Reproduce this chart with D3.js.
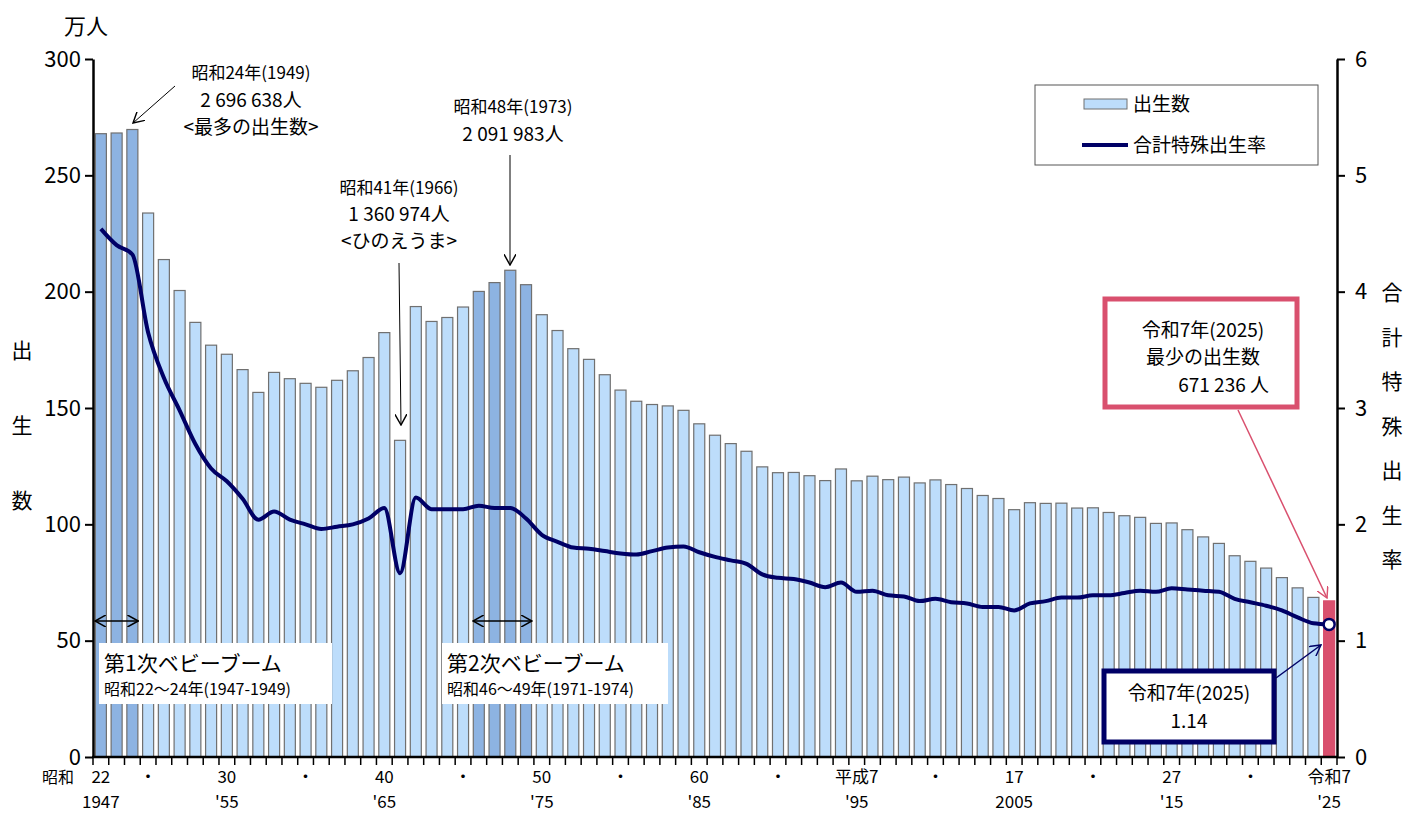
<!DOCTYPE html>
<html><head><meta charset="utf-8">
<script src="https://cdn.jsdelivr.net/npm/d3@7"></script>
<style>
body{margin:0;background:#fff;}
svg text{font-family:"Noto Sans CJK JP",sans-serif;fill:#000;}
</style></head>
<body><svg id="c" width="1418" height="813"></svg>
<script>
const years = d3.range(1947, 2026);
const births = [267.9,268.2,269.7,233.8,213.8,200.5,186.8,177.0,173.1,166.5,
156.7,165.3,162.6,160.6,158.9,161.9,166.0,171.7,182.4,136.1,
193.6,187.2,188.9,193.4,200.1,203.9,209.2,203.0,190.1,183.3,
175.5,170.9,164.3,157.7,152.9,151.5,150.9,149.0,143.2,138.3,
134.7,131.4,124.7,122.2,122.3,120.9,118.8,123.8,118.7,120.7,
119.2,120.3,117.8,119.1,117.1,115.4,112.4,111.1,106.3,109.3,
109.0,109.1,107.0,107.1,105.1,103.7,103.0,100.4,100.6,97.7,
94.6,91.8,86.5,84.1,81.2,77.1,72.7,68.6,67.1];
const tfr = [4.54,4.40,4.32,3.65,3.26,2.98,2.69,2.48,2.37,2.22,
2.04,2.11,2.04,2.00,1.96,1.98,2.00,2.05,2.14,1.58,
2.23,2.13,2.13,2.13,2.16,2.14,2.14,2.05,1.91,1.85,
1.80,1.79,1.77,1.75,1.74,1.77,1.80,1.81,1.76,1.72,
1.69,1.66,1.57,1.54,1.53,1.50,1.46,1.50,1.42,1.43,
1.39,1.38,1.34,1.36,1.33,1.32,1.29,1.29,1.26,1.32,
1.34,1.37,1.37,1.39,1.39,1.41,1.43,1.42,1.45,1.44,
1.43,1.42,1.36,1.33,1.30,1.26,1.20,1.15,1.14];
const boomYears = [1947,1948,1949,1971,1972,1973,1974];
const leftTicks = [0,50,100,150,200,250,300];
const rightTicks = [0,1,2,3,4,5,6];
const xLabels1 = [[1947,"22"],[1950,"・"],[1955,"30"],[1960,"・"],[1965,"40"],[1970,"・"],[1975,"50"],[1980,"・"],[1985,"60"],[1990,"・"],[1995,"平成7"],[2000,"・"],[2005,"17"],[2010,"・"],[2015,"27"],[2020,"・"],[2025,"令和7"]];
const xLabels2 = [[1947,"1947"],[1955,"'55"],[1965,"'65"],[1975,"'75"],[1985,"'85"],[1995,"'95"],[2005,"2005"],[2015,"'15"],[2025,"'25"]];

const L=93, R=1337, T=59, B=757;
const svg = d3.select("#c");
const x = d3.scaleBand().domain(years).range([L,R]).paddingInner(0.3).paddingOuter(0.15);
const xb = d3.scaleBand().domain(years).range([L,R]);
const y = d3.scaleLinear().domain([0,300]).range([B,T]);
const y2 = d3.scaleLinear().domain([0,6]).range([B,T]);

// bars
svg.append("g").selectAll("rect").data(years).join("rect")
  .attr("x",d=>x(d)).attr("width",x.bandwidth())
  .attr("y",(d,i)=>y(births[i])).attr("height",(d,i)=>B-y(births[i]))
  .attr("fill",d=>d===2025?"#D9506E":(boomYears.includes(d)?"#8DB3E2":"#BDDDFB"))
  .attr("stroke",d=>d===2025?"#D9506E":"#707070").attr("stroke-width",1.2);

// line
const line = d3.line().x((d,i)=>xb(years[i])+xb.bandwidth()/2).y(d=>y2(d)).curve(d3.curveMonotoneX);
svg.append("path").datum(tfr).attr("d",line).attr("fill","none").attr("stroke","#000066").attr("stroke-width",4).attr("stroke-linejoin","round");
svg.append("circle").attr("cx",xb(2025)+xb.bandwidth()/2).attr("cy",y2(tfr[tfr.length-1])).attr("r",5.5)
  .attr("fill","#fff").attr("stroke","#000066").attr("stroke-width",2.5);

// axes
const gl = svg.append("g").attr("transform",`translate(${L},0)`).call(d3.axisLeft(y).tickValues(leftTicks).tickFormat(d3.format("d")).tickSize(8).tickSizeOuter(0));
gl.selectAll("text").attr("font-size",22).attr("x",-12);
const gr = svg.append("g").attr("transform",`translate(${R},0)`).call(d3.axisRight(y2).tickValues(rightTicks).tickFormat(d3.format("d")).tickSize(8).tickSizeOuter(0));
gr.selectAll("text").attr("font-size",22).attr("x",18);
[gl,gr].forEach(g=>{g.select(".domain").attr("stroke","#000").attr("stroke-width",2.5);g.selectAll(".tick line").attr("stroke","#000").attr("stroke-width",2);g.selectAll("text").attr("font-family","Noto Sans CJK JP, sans-serif");});
// x axis: ticks at band boundaries
const gx = svg.append("g");
gx.append("line").attr("x1",L-1).attr("x2",R+1).attr("y1",B).attr("y2",B).attr("stroke","#000").attr("stroke-width",2.5);
gx.selectAll("line.t").data(years.concat([2026])).join("line").attr("class","t")
  .attr("x1",d=>d===2026?R:xb(d)).attr("x2",d=>d===2026?R:xb(d)).attr("y1",B).attr("y2",B+8).attr("stroke","#000").attr("stroke-width",1.5);
const cx = d=>xb(d)+xb.bandwidth()/2;
gx.selectAll("text.l1").data(xLabels1).join("text").attr("class","l1")
  .attr("x",d=>cx(d[0])).attr("y",783).attr("text-anchor","middle").attr("font-size",17).text(d=>d[1]);
gx.append("text").attr("x",58).attr("y",783).attr("text-anchor","middle").attr("font-size",16).text("昭和");
gx.selectAll("text.l2").data(xLabels2).join("text").attr("class","l2")
  .attr("x",d=>cx(d[0])).attr("y",808).attr("text-anchor","middle").attr("font-size",17).text(d=>d[1]);

// axis titles
svg.append("text").attr("x",86).attr("y",34).attr("text-anchor","middle").attr("font-size",22).text("万人");
["出","生","数"].forEach((c,i)=>svg.append("text").attr("x",22).attr("y",358+i*75).attr("text-anchor","middle").attr("font-size",21).text(c));
["合","計","特","殊","出","生","率"].forEach((c,i)=>svg.append("text").attr("x",1392).attr("y",300+i*44.5).attr("text-anchor","middle").attr("font-size",21).text(c));

// legend
const lg = svg.append("g");
lg.append("rect").attr("x",1035).attr("y",85).attr("width",283).attr("height",80).attr("fill","#fff").attr("stroke","#555").attr("stroke-width",1);
lg.append("rect").attr("x",1084).attr("y",99).attr("width",43).attr("height",10).attr("fill","#BDDDFB").attr("stroke","#707070");
lg.append("text").attr("x",1133).attr("y",111).attr("font-size",19).text("出生数");
lg.append("line").attr("x1",1082).attr("x2",1128).attr("y1",145).attr("y2",145).attr("stroke","#000066").attr("stroke-width",4);
lg.append("text").attr("x",1133).attr("y",152).attr("font-size",19).text("合計特殊出生率");

// arrow marker defs
const defs = svg.append("defs");
function marker(id,color){
  defs.append("marker").attr("id",id).attr("viewBox","0 0 10 10").attr("refX",9).attr("refY",5)
   .attr("markerWidth",12).attr("markerHeight",12).attr("markerUnits","userSpaceOnUse").attr("orient","auto-start-reverse")
   .append("path").attr("d","M0,0 L9,5 L0,10").attr("fill","none").attr("stroke",color).attr("stroke-width",1.2);
}
marker("ak","#000");marker("ap","#D9506E");marker("an","#000066");

function txt(x0,y0,s,size,anchor){
  return svg.append("text").attr("x",x0).attr("y",y0).attr("text-anchor",anchor||"middle").attr("font-size",size).text(s);
}
// 1949 annotation
txt(251,79,"昭和24年(1949)",17);
txt(251,107,"2 696 638人",19);
txt(251,134,"<最多の出生数>",19);
svg.append("line").attr("x1",175).attr("y1",86).attr("x2",133).attr("y2",123).attr("stroke","#000").attr("stroke-width",1).attr("marker-end","url(#ak)");
// 1966
txt(399,194,"昭和41年(1966)",17);
txt(399,221,"1 360 974人",19);
txt(399,248,"<ひのえうま>",19);
svg.append("line").attr("x1",399).attr("y1",263).attr("x2",401).attr("y2",425).attr("stroke","#000").attr("stroke-width",1).attr("marker-end","url(#ak)");
// 1973
txt(513,113,"昭和48年(1973)",17);
txt(513,141,"2 091 983人",19);
svg.append("line").attr("x1",510).attr("y1",155).attr("x2",510).attr("y2",265).attr("stroke","#000").attr("stroke-width",1).attr("marker-end","url(#ak)");

// baby booms
function boom(y0,y1,bx,bw,t1,t2){
  const xa = xb(y0)+2, xz = xb(y1)+xb.bandwidth()-2;
  svg.append("line").attr("x1",xa).attr("x2",xz).attr("y1",621).attr("y2",621).attr("stroke","#000").attr("stroke-width",1.5)
    .attr("marker-start","url(#ak)").attr("marker-end","url(#ak)");
  svg.append("rect").attr("x",bx).attr("y",643).attr("width",bw).attr("height",61).attr("fill","#fff");
  svg.append("text").attr("x",bx+5).attr("y",671).attr("font-size",21).text(t1);
  svg.append("text").attr("x",bx+5).attr("y",695).attr("font-size",16).text(t2);
}
boom(1947,1949,99,233,"第1次ベビーブーム","昭和22～24年(1947-1949)");
boom(1971,1974,442,226,"第2次ベビーブーム","昭和46～49年(1971-1974)");

// 2025 births box
svg.append("rect").attr("x",1105).attr("y",299).attr("width",192).attr("height",108).attr("fill","#fff").attr("stroke","#D9506E").attr("stroke-width",5);
txt(1203,337,"令和7年(2025)",19);
txt(1203,364,"最少の出生数",19);
txt(1269,392,"671 236 人",19,"end");
svg.append("line").attr("x1",1238).attr("y1",410).attr("x2",1327).attr("y2",598).attr("stroke","#D9506E").attr("stroke-width",1.5).attr("marker-end","url(#ap)");
// 2025 TFR box
svg.append("rect").attr("x",1104).attr("y",671).attr("width",170).attr("height",71).attr("fill","#fff").attr("stroke","#000066").attr("stroke-width",5);
txt(1189,700,"令和7年(2025)",19);
txt(1189,728,"1.14",19);
svg.append("line").attr("x1",1276).attr("y1",678).attr("x2",1321).attr("y2",645).attr("stroke","#000066").attr("stroke-width",1.5).attr("marker-end","url(#an)");
</script></body></html>
